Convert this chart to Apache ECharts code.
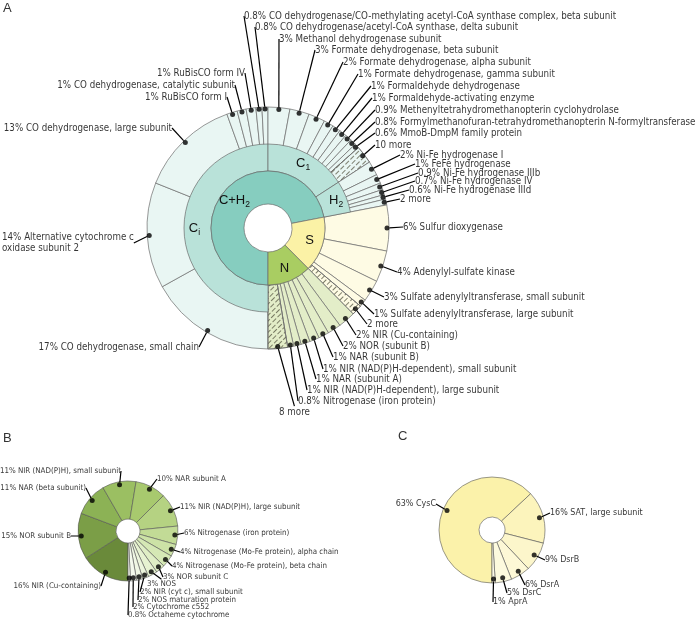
<!DOCTYPE html>
<html><head><meta charset="utf-8">
<script src="https://cdn.jsdelivr.net/npm/echarts@6/dist/echarts.min.js"></script>
<style>html,body{margin:0;padding:0;background:#fff}#c{width:696px;height:621px}</style>
</head><body><div id="c"></div>
<script>
// ================= DATA =================
// Panel A – leaves, clockwise from 6 o'clock
const ciNames = ['CO dehydrogenase, small chain', 'Alternative cytochrome c\noxidase subunit 2', 'CO dehydrogenase, large subunit', 'RuBisCO form I', 'CO dehydrogenase, catalytic subunit', 'RuBisCO form IV', 'CO dehydrogenase/CO-methylating acetyl-CoA synthase complex, beta subunit', 'CO dehydrogenase/acetyl-CoA synthase, delta subunit'];
const ciValues = [16.9, 14.1, 13.4, 1.4, 1.2, 1.3, 0.8, 0.8];
const c1Names = ['Methanol dehydrogenase subunit', 'Formate dehydrogenase, beta subunit', 'Formate dehydrogenase, alpha subunit', 'Formate dehydrogenase, gamma subunit', 'Formaldehyde dehydrogenase', 'Formaldehyde-activating enzyme', 'Methenyltetrahydromethanopterin cyclohydrolase', 'Formylmethanofuran-tetrahydromethanopterin N-formyltransferase', 'MmoB-DmpM family protein', '10 more'];
const c1Values = [2.9, 2.6, 2.2, 1.3, 1.1, 1.0, 0.9, 0.8, 0.6, 2.4];
const h2Names = ['Ni-Fe hydrogenase I', 'FeFe hydrogenase', 'Ni-Fe hydrogenase IIIb', 'Ni-Fe hydrogenase IV', 'Ni-Fe hydrogenase IIId', '2 more'];
const h2Values = [1.9, 1.2, 0.9, 0.7, 0.6, 0.8];
const sNames = ['Sulfur dioxygenase', 'Adenylyl-sulfate kinase', 'Sulfate adenylyltransferase, small subunit', 'Sulfate adenylyltransferase, large subunit', '2 more'];
const sValues = [6.1, 4.2, 2.9, 1.0, 1.4];
const nNames = ['NIR (Cu-containing)', 'NOR (subunit B)', 'NAR (subunit B)', 'NIR (NAD(P)H-dependent), small subunit', 'NAR (subunit A)', 'NIR (NAD(P)H-dependent), large subunit', 'Nitrogenase (iron protein)', '8 more'];
const nValues = [2.3, 1.8, 1.4, 1.3, 1.2, 1.0, 0.8, 2.6];
// Panel B
const bNames = ['NIR (Cu-containing)', 'NOR subunit B', 'NAR (beta subunit)', 'NIR (NAD(P)H), small subunit', 'NAR subunit A', 'NIR (NAD(P)H), large subunit', 'Nitrogenase (iron protein)', 'Nitrogenase (Mo-Fe protein), alpha chain', 'Nitrogenase (Mo-Fe protein), beta chain', 'NOR subunit C', 'NOS', 'NIR (cyt c), small subunit', 'NOS maturation protein', 'Cytochrome c552', 'Octaheme cytochrome'];
const bValues = [16, 15, 11, 11, 10, 11, 6, 4, 4, 3, 3, 2, 2, 2, 0.8];
// Panel C
const cNames = ['CysC', 'SAT, large subunit', 'DsrB', 'DsrA', 'DsrC', 'AprA'];
const cValues = [63, 16, 9, 6, 5, 1];

// ================= LAYOUT / STYLE =================
const FONT = '"DejaVu Sans Condensed", "DejaVu Sans", sans-serif';
const geoA = { c: [268, 228], r0: 24, r1: 57, r2: 84, r3: 121 };
const geoB = { c: [128, 531], r0: 12, r1: 50 };
const geoC = { c: [492, 530], r0: 13, r1: 53 };
// label anchor positions [x, y, align]
const labelPosA = [
  [199, 347, 'right'], [2, 243, 'left'], [172, 128, 'right'], [227, 97, 'right'], [235, 85, 'right'], [245, 73, 'right'], [244, 16, 'left'], [255, 27, 'left'],
  [279, 39, 'left'], [315, 50, 'left'], [343, 62, 'left'], [358, 74, 'left'], [371, 86, 'left'], [372, 98, 'left'], [375, 110, 'left'], [375, 122, 'left'], [375, 133, 'left'], [375, 145, 'left'],
  [400, 155, 'left'], [415, 164, 'left'], [418, 173, 'left'], [415, 181, 'left'], [409, 190, 'left'], [400, 199, 'left'],
  [403, 227, 'left'], [397, 272, 'left'], [384, 297, 'left'], [374, 314, 'left'], [367, 324, 'left'],
  [356, 335, 'left'], [343, 346, 'left'], [333, 357, 'left'], [323, 369, 'left'], [316, 379, 'left'], [307, 390, 'left'], [298, 401, 'left'], [279, 412, 'left']
];
const labelPosB = [
  [101, 586, 'right'], [71, 536, 'right'], [86, 488, 'right'], [121, 471, 'right'], [157, 479, 'left'], [180, 507, 'left'],
  [184, 533, 'left'], [180, 552, 'left'], [172, 566, 'left'], [163, 577, 'left'], [147, 584, 'left'], [140, 592, 'left'], [138, 600, 'left'], [133, 607, 'left'], [128, 615, 'left']
];
const labelPosC = [[436, 504, 'right'], [550, 513, 'left'], [545, 560, 'left'], [525, 585, 'left'], [507, 593, 'left'], [493, 602, 'left']];

const colInner = { CH: '#86cdbf', S: '#fbf2a6', N: '#a9cd62' };
const colMid = '#b9e2d9';
const colLeaf = { C: '#e9f6f3', S: '#fefbe4', N: '#e3edc8' };
const colB = ['#6a8a3a', '#7b9e47', '#8cb255', '#9bbf62', '#a8c96e', '#b5d282', '#c2db96', '#cce2a6', '#d5e8b5', '#dfeec5', '#e6f2d1', '#ecf5dc', '#f0f7e4', '#f4f9ec', '#f8fbf2'];
const colC = ['#fbf2aa', '#fcf4bc', '#fcf6cb', '#fdf8d6', '#fdfade', '#fefbe6'];
const hatchDecal = { symbol: 'rect', symbolSize: 1, dashArrayX: [[5, 2], [0, 2, 5, 0]], dashArrayY: [1, 2.5], rotation: -Math.PI / 4, color: 'rgba(85,85,65,0.75)' };
const hatched = { C1: ['10 more'], S: ['2 more'], N: ['8 more'] };
const BORDER = { borderColor: '#6b6b6b', borderWidth: 0.7 };

// ================= HELPERS =================
const sum = a => a.reduce((s, v) => s + v, 0);
const fmtPct = v => (v < 1 ? v.toFixed(1) : String(Math.round(v))) + '%';
const labelText = (name, v) => /more$/.test(name) ? name : fmtPct(v) + ' ' + name;
function mids(vals) { let c = 0; return vals.map(v => { const m = c + v / 2; c += v; return m; }); }

const groupsA = [
  { key: 'Ci', names: ciNames, vals: ciValues, leaf: colLeaf.C },
  { key: 'C1', names: c1Names, vals: c1Values, leaf: colLeaf.C },
  { key: 'H2', names: h2Names, vals: h2Values, leaf: colLeaf.C },
  { key: 'S', names: sNames, vals: sValues, leaf: colLeaf.S },
  { key: 'N', names: nNames, vals: nValues, leaf: colLeaf.N }
];
const leavesA = [];
groupsA.forEach(g => g.names.forEach((n, i) => {
  const it = { name: n, value: g.vals[i], itemStyle: { color: g.leaf } };
  if (hatched[g.key] && hatched[g.key].includes(n)) it.itemStyle.decal = hatchDecal;
  leavesA.push(it);
}));
const valsA = leavesA.map(d => d.value);
const totalA = sum(valsA);
const ciSum = sum(ciValues), c1Sum = sum(c1Values), h2Sum = sum(h2Values), sSum = sum(sValues), nSum = sum(nValues);

const sub = (a, b) => `{m|${a}}{s|${b}}`;
const innerRich = { m: { fontSize: 13, fontFamily: 'Liberation Sans, Arial, sans-serif', color: '#111', lineHeight: 18 }, s: { fontSize: 8.5, fontFamily: 'Liberation Sans, Arial, sans-serif', color: '#111', lineHeight: 18, padding: [9, 0, 0, 0] } };

function dotSeries(polarIndex, names, vals, rDot, pos, fontSize) {
  const m = mids(vals);
  return {
    type: 'scatter', coordinateSystem: 'polar', polarIndex, silent: true, animation: false,
    symbol: 'circle', symbolSize: 5, itemStyle: { color: '#000' }, z: 5,
    data: vals.map((v, i) => ({ value: [rDot, m[i]], name: names[i] })),
    label: { show: true, fontFamily: FONT, fontSize, color: '#000', lineHeight: fontSize * 1.2,
      formatter: p => labelText(names[p.dataIndex], vals[p.dataIndex]) },
    labelLine: { show: true, length2: 0, lineStyle: { color: '#000', width: 1.2 } },
    labelLayout: p => { const q = pos[p.dataIndex]; return { x: q[0], y: q[1], align: q[2], verticalAlign: 'middle' }; }
  };
}

const option = {
  animation: false,
  polar: [
    { center: geoA.c, radius: [0, geoA.r3] },
    { center: geoB.c, radius: [0, geoB.r1] },
    { center: geoC.c, radius: [0, geoC.r1] }
  ],
  angleAxis: [
    { polarIndex: 0, min: 0, max: totalA, startAngle: -90, clockwise: true, show: false },
    { polarIndex: 1, min: 0, max: sum(bValues), startAngle: -90, clockwise: true, show: false },
    { polarIndex: 2, min: 0, max: sum(cValues), startAngle: -90, clockwise: true, show: false }
  ],
  radiusAxis: [
    { polarIndex: 0, min: 0, max: geoA.r3, show: false },
    { polarIndex: 1, min: 0, max: geoB.r1, show: false },
    { polarIndex: 2, min: 0, max: geoC.r1, show: false }
  ],
  graphic: [
    { type: 'text', left: 3, top: 2, style: { text: 'A', font: '13px "Liberation Sans", Arial', fill: '#333' } },
    { type: 'text', left: 3, top: 432, style: { text: 'B', font: '13px "Liberation Sans", Arial', fill: '#333' } },
    { type: 'text', left: 398, top: 430, style: { text: 'C', font: '13px "Liberation Sans", Arial', fill: '#333' } }
  ],
  series: [
    { type: 'pie', silent: true, center: geoA.c, radius: [geoA.r1, geoA.r3], startAngle: -90, clockwise: true,
      label: { show: false }, labelLine: { show: false }, itemStyle: BORDER, data: leavesA },
    { type: 'pie', silent: true, center: geoA.c, radius: [geoA.r1, geoA.r2], startAngle: -90, clockwise: true,
      itemStyle: BORDER, labelLine: { show: false },
      label: { show: true, position: 'inside', rich: innerRich },
      data: [
        { name: 'Ci', value: ciSum, itemStyle: { color: colMid }, label: { formatter: sub('C', 'i') } },
        { name: 'C1', value: c1Sum, itemStyle: { color: colMid }, label: { formatter: sub('C', '1') } },
        { name: 'H2', value: h2Sum, itemStyle: { color: colMid }, label: { formatter: sub('H', '2') } },
        { name: 'S', value: sSum, itemStyle: { color: 'rgba(0,0,0,0)', borderWidth: 0 }, label: { show: false } },
        { name: 'N', value: nSum, itemStyle: { color: 'rgba(0,0,0,0)', borderWidth: 0 }, label: { show: false } }
      ] },
    { type: 'pie', silent: true, center: geoA.c, radius: [geoA.r0, geoA.r1], startAngle: -90, clockwise: true,
      itemStyle: BORDER, labelLine: { show: false },
      label: { show: true, position: 'inside', rich: innerRich },
      data: [
        { name: 'C+H2', value: ciSum + c1Sum + h2Sum, itemStyle: { color: colInner.CH }, label: { formatter: sub('C+H', '2') } },
        { name: 'S', value: sSum, itemStyle: { color: colInner.S }, label: { formatter: '{m|S}' } },
        { name: 'N', value: nSum, itemStyle: { color: colInner.N }, label: { formatter: '{m|N}' } }
      ] },
    { type: 'pie', silent: true, center: geoB.c, radius: [geoB.r0, geoB.r1], startAngle: -90, clockwise: true,
      label: { show: false }, labelLine: { show: false }, itemStyle: { borderColor: '#555', borderWidth: 0.6 },
      data: bValues.map((v, i) => ({ name: bNames[i], value: v, itemStyle: { color: colB[i] } })) },
    { type: 'pie', silent: true, center: geoC.c, radius: [geoC.r0, geoC.r1], startAngle: -90, clockwise: true,
      label: { show: false }, labelLine: { show: false }, itemStyle: { borderColor: '#555', borderWidth: 0.6 },
      data: cValues.map((v, i) => ({ name: cNames[i], value: v, itemStyle: { color: colC[i] } })) },
    dotSeries(0, leavesA.map(d => d.name), valsA, geoA.r3 - 2, labelPosA, 9.7),
    dotSeries(1, bNames, bValues, geoB.r1 - 3, labelPosB, 7.9),
    dotSeries(2, cNames, cValues, geoC.r1 - 4, labelPosC, 8.9)
  ]
};
const chart = echarts.init(document.getElementById('c'), null, { renderer: 'canvas' });
chart.setOption(option);
</script></body></html>
